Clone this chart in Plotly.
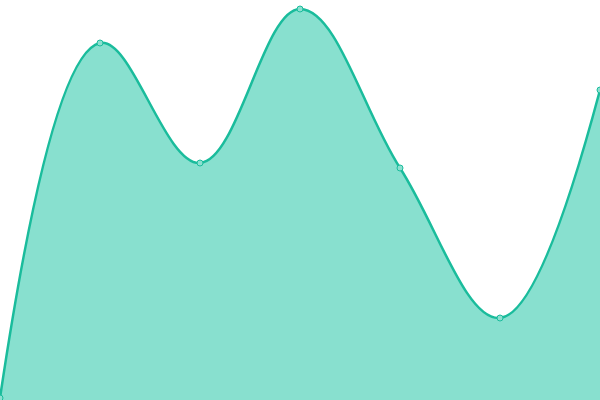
import plotly.graph_objects as go

x_vals = [0, 1, 2, 3, 4, 5, 6]
y_vals = [2, 357, 237, 391, 232, 82, 310]

fig = go.Figure()
fig.add_trace(
    go.Scatter(
        x=x_vals,
        y=y_vals,
        mode="lines+markers",
        line={"color": "#1abc9c", "width": 2.5, "shape": "spline", "smoothing": 1.1},
        marker={"size": 6, "color": "#8ce0d0", "line": {"color": "#1abc9c", "width": 1}},
        fill="tozeroy",
        fillcolor="#88e0cf",
        showlegend=False,
        cliponaxis=False,
    )
)
fig.update_layout(
    width=600,
    height=400,
    margin={"l": 0, "r": 0, "b": 0, "t": 0},
    paper_bgcolor="white",
    plot_bgcolor="white",
    xaxis={"visible": False, "range": [0, 6]},
    yaxis={"visible": False, "range": [0, 400]},
)
fig.write_html(
    "out.html",
    config={"displayModeBar": False},
    post_script="document.body.style.margin='0';document.body.style.overflow='hidden';",
)
